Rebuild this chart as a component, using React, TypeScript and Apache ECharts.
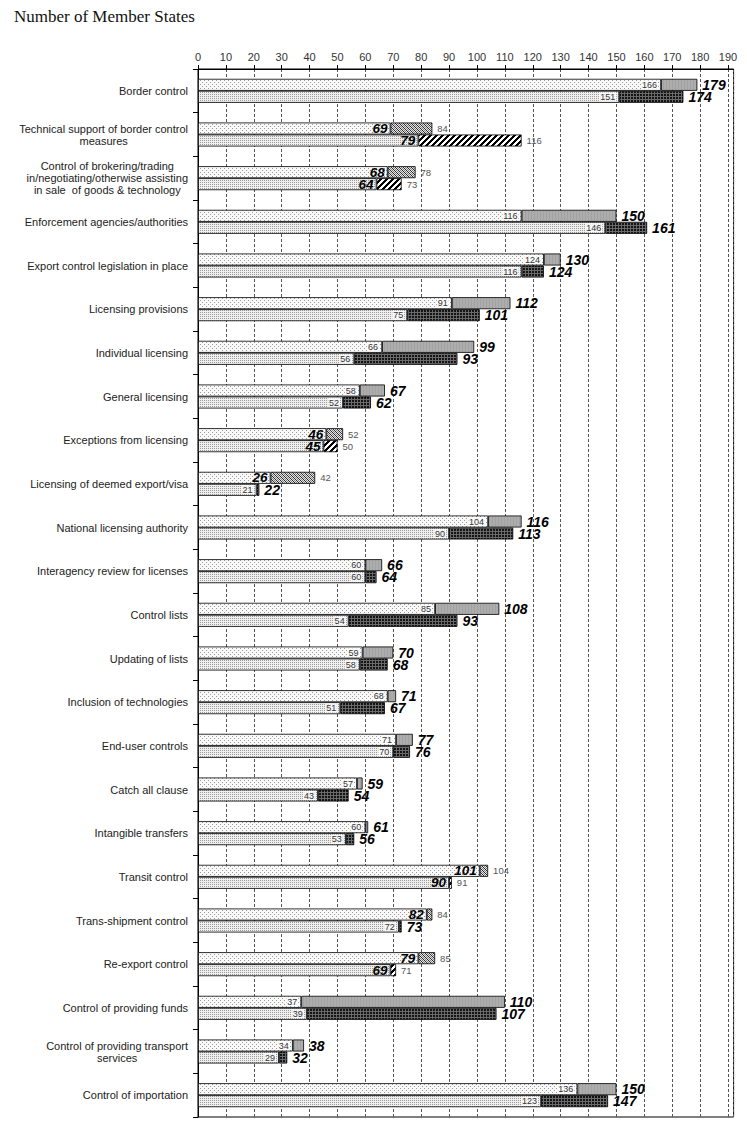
import React, { useEffect, useRef } from 'react';
import * as echarts from 'echarts';

const categories = [
  'Border control',
  'Technical support of border control\nmeasures',
  'Control of brokering/trading\nin/negotiating/otherwise assisting\nin sale  of goods & technology',
  'Enforcement agencies/authorities',
  'Export control legislation in place',
  'Licensing provisions',
  'Individual licensing',
  'General licensing',
  'Exceptions from licensing',
  'Licensing of deemed export/visa',
  'National licensing authority',
  'Interagency review for licenses',
  'Control lists',
  'Updating of lists',
  'Inclusion of technologies',
  'End-user controls',
  'Catch all clause',
  'Intangible transfers',
  'Transit control',
  'Trans-shipment control',
  'Re-export control',
  'Control of providing funds',
  'Control of providing transport\nservices',
  'Control of importation',
];

const topBase = [166, 69, 68, 116, 124, 91, 66, 58, 46, 26, 104, 60, 85, 59, 68, 71, 57, 60, 101, 82, 79, 37, 34, 136];
const topTotal = [179, 84, 78, 150, 130, 112, 99, 67, 52, 42, 116, 66, 108, 70, 71, 77, 59, 61, 104, 84, 85, 110, 38, 150];
const topHatched = [0, 1, 1, 0, 0, 0, 0, 0, 1, 1, 0, 0, 0, 0, 0, 0, 0, 0, 1, 1, 1, 0, 0, 0];

const bottomBase = [151, 79, 64, 146, 116, 75, 56, 52, 45, 21, 90, 60, 54, 58, 51, 70, 43, 53, 90, 72, 69, 39, 29, 123];
const bottomTotal = [174, 116, 73, 161, 124, 101, 93, 62, 50, 22, 113, 64, 93, 68, 67, 76, 54, 56, 91, 73, 71, 107, 32, 147];
const bottomHatched = [0, 1, 1, 0, 0, 0, 0, 0, 1, 0, 0, 0, 0, 0, 0, 0, 0, 0, 1, 0, 1, 0, 0, 0];

function makePattern(w: number, h: number, bg: string, pix: (x: number, y: number) => string | null) {
  const c = document.createElement('canvas');
  c.width = w;
  c.height = h;
  const ctx = c.getContext('2d')!;
  ctx.fillStyle = bg;
  ctx.fillRect(0, 0, w, h);
  for (let y = 0; y < h; y++) {
    for (let x = 0; x < w; x++) {
      const col = pix(x, y);
      if (col) {
        ctx.fillStyle = col;
        ctx.fillRect(x, y, 1, 1);
      }
    }
  }
  return { image: c.toDataURL(), repeat: 'repeat', imageWidth: w, imageHeight: h } as any;
}

const FONT = 'Liberation Sans';

export default function App() {
  const ref = useRef<HTMLDivElement>(null);
  useEffect(() => {
    if (!ref.current) return;
    const chart = echarts.init(ref.current, undefined, { renderer: 'svg' });

    const dotTop = makePattern(4, 4, '#f9f9f9', (x, y) => ((x === 0 && y === 0) || (x === 2 && y === 2) ? '#999999' : null));
    const dotBottom = makePattern(2, 2, '#f0f0f0', (x, y) => (x === 0 && y === 0 ? '#9a9a9a' : null));
    const grayExt = makePattern(3, 1, '#adadad', (x) => (x === 0 ? '#a2a2a2' : null));
    const blackExt = makePattern(3, 3, '#141414', (x, y) => (x === 0 || y === 0 ? '#6a6a6a' : null));
    const fineHatch = makePattern(4, 4, '#e4e4e4', (x, y) => {
      const d = (x - y + 4) % 4;
      return d === 0 ? '#2a2a2a' : d === 2 ? '#808080' : null;
    });
    const heavyHatch = makePattern(6, 6, '#ffffff', (x, y) => ((x + y) % 6 < 3 ? '#000000' : null));

    const small = { fontSize: 9, fontFamily: FONT, color: '#333', fontWeight: 'normal', fontStyle: 'normal' };
    const bold = { fontSize: 14, fontFamily: FONT, color: '#000', fontWeight: 'bold', fontStyle: 'italic' };

    const border = { borderColor: '#000', borderWidth: 0.8 };

    const baseSeries = (name: string, stack: string, base: number[], hatched: number[], fill: any) => ({
      name,
      type: 'bar',
      stack,
      barWidth: 12,
      barGap: '0%',
      itemStyle: { color: fill, ...border },
      label: { show: true, position: 'insideRight', distance: 3 },
      data: base.map((v, i) => ({
        value: v,
        label: hatched[i]
          ? { ...bold, fontSize: 13.5, distance: 3 }
          : { ...small, distance: 3, backgroundColor: 'rgba(255,255,255,0.75)', padding: [0, 1] },
      })),
    });

    const extSeries = (
      name: string,
      stack: string,
      base: number[],
      total: number[],
      hatched: number[],
      solid: any,
      hatch: any
    ) => ({
      name,
      type: 'bar',
      stack,
      barWidth: 12,
      barGap: '0%',
      itemStyle: { ...border },
      label: {
        show: true,
        position: 'right',
        distance: 5,
        formatter: (p: any) => String(total[p.dataIndex]),
      },
      data: base.map((v, i) => ({
        value: total[i] - v,
        itemStyle: { color: hatched[i] ? hatch : solid, ...border },
        label: hatched[i] ? { ...small, fontSize: 9.5, color: '#555' } : { ...bold },
      })),
    });

    chart.setOption({
      animation: false,
      title: {
        text: 'Number of Member States',
        left: 9,
        top: 3,
        textStyle: { fontFamily: 'Liberation Serif', fontSize: 17, fontWeight: 'normal', color: '#111' },
      },
      grid: {
        left: 198,
        right: 13.4,
        top: 69,
        bottom: 8,
        show: true,
        borderColor: '#000',
        borderWidth: 1,
        backgroundColor: 'transparent',
      },
      xAxis: {
        type: 'value',
        position: 'top',
        min: 0,
        max: 192,
        interval: 10,
        axisLine: { show: true, lineStyle: { color: '#000', width: 1 } },
        axisTick: { show: true, length: 4, lineStyle: { color: '#000' } },
        axisLabel: { fontFamily: FONT, fontSize: 11, color: '#333', margin: 7, showMaxLabel: false },
        splitLine: { show: true, lineStyle: { color: '#555', type: [3, 2], width: 1 } },
      },
      yAxis: {
        type: 'category',
        data: categories,
        inverse: true,
        axisLine: { show: true, lineStyle: { color: '#000', width: 1 } },
        axisTick: { show: true, length: 5, lineStyle: { color: '#000' } },
        splitLine: { show: false },
        axisLabel: {
          margin: 10,
          align: 'right',
          formatter: (v: string) =>
            v
              .split('\n')
              .map((l) => '{c|' + l + '}')
              .join('\n'),
          rich: {
            c: { align: 'center', fontFamily: FONT, fontSize: 11, color: '#222', lineHeight: 12 },
          },
        },
      },
      series: [
        baseSeries('topBase', 'top', topBase, topHatched, dotTop),
        extSeries('topExt', 'top', topBase, topTotal, topHatched, grayExt, fineHatch),
        baseSeries('bottomBase', 'bottom', bottomBase, bottomHatched, dotBottom),
        extSeries('bottomExt', 'bottom', bottomBase, bottomTotal, bottomHatched, blackExt, heavyHatch),
      ],
    });
    return () => chart.dispose();
  }, []);
  return <div ref={ref} style={{ position: 'absolute', left: 0, top: 0, width: 747, height: 1125 }} />;
}
